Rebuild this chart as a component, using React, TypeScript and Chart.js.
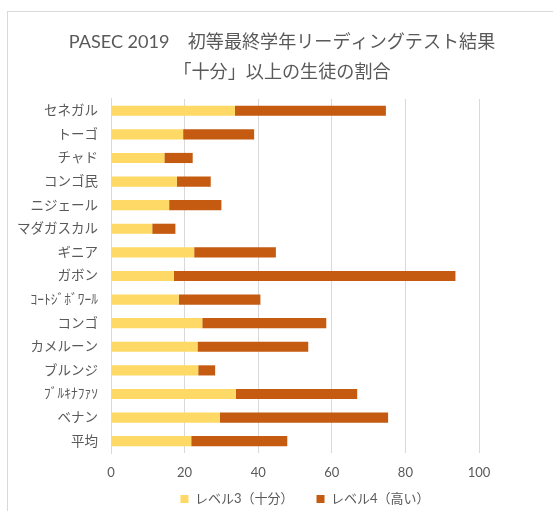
import React, { useEffect, useRef } from "react";
import { Chart, registerables } from "chart.js";

Chart.register(...registerables);

const titleLines = ["PASEC 2019\u3000初等最終学年リーディングテスト結果", "「十分」以上の生徒の割合"];
const countries = [
  "セネガル",
  "トーゴ",
  "チャド",
  "コンゴ民",
  "ニジェール",
  "マダガスカル",
  "ギニア",
  "ガボン",
  "ｺｰﾄｼﾞﾎﾞﾜｰﾙ",
  "コンゴ",
  "カメルーン",
  "ブルンジ",
  "ﾌﾞﾙｷﾅﾌｧｿ",
  "ベナン",
  "平均",
];
const level3 = [33.7, 19.6, 14.5, 17.9, 15.8, 11.2, 22.6, 17.1, 18.4, 24.8, 23.5, 23.7, 33.9, 29.6, 21.8];
const level4 = [41.0, 19.3, 7.7, 9.2, 14.2, 6.3, 22.2, 76.5, 22.2, 33.7, 30.1, 4.6, 33.0, 45.7, 26.1];
const seriesNames = ["レベル3（十分）", "レベル4（高い）"];
const xTicks = { min: 0, max: 100, step: 20 };

const FONT = "Lato, 'Noto Sans CJK JP', sans-serif";
const TEXT = "#595959";
const GRID = "#D9D9D9";

// moves the legend row to where the original chart's legend sits
const legendShift = {
  id: "legendShift",
  afterLayout(chart: any) {
    const lg = chart.legend;
    if (lg) {
      lg.left += 10;
      lg.right += 10;
      lg.top -= 11.5;
      lg.bottom -= 11.5;
    }
  },
};

export default function App() {
  const ref = useRef<HTMLCanvasElement | null>(null);

  useEffect(() => {
    if (!ref.current) return;
    const chart = new Chart(ref.current, {
      type: "bar",
      data: {
        labels: countries,
        datasets: [
          {
            label: seriesNames[0],
            data: level3,
            backgroundColor: "#FFD966",
            borderWidth: 0,
            categoryPercentage: 0.43,
            barPercentage: 1,
          },
          {
            label: seriesNames[1],
            data: level4,
            backgroundColor: "#C55A11",
            borderWidth: 0,
            categoryPercentage: 0.43,
            barPercentage: 1,
          },
        ],
      },
      plugins: [legendShift],
      options: {
        indexAxis: "y",
        responsive: false,
        animation: false,
        devicePixelRatio: 1,
        layout: { padding: { left: 11, right: 0, top: 0, bottom: 0 } },
        scales: {
          x: {
            stacked: true,
            min: xTicks.min,
            max: xTicks.max,
            ticks: {
              stepSize: xTicks.step,
              color: TEXT,
              padding: 12,
              font: { family: FONT, size: 13 },
            },
            grid: { color: GRID, lineWidth: 1, drawTicks: false },
            border: { display: false },
            afterFit: (s: any) => {
              s.height = 28;
            },
          },
          y: {
            stacked: true,
            ticks: {
              color: TEXT,
              padding: 13,
              autoSkip: false,
              font: { family: FONT, size: 13.5 },
            },
            grid: { display: false, drawTicks: false },
            border: { display: true, color: GRID, width: 1 },
            afterFit: (s: any) => {
              s.width = 100;
            },
          },
          yRight: {
            type: "linear",
            position: "right",
            display: true,
            ticks: { display: false },
            grid: { display: false, drawTicks: false },
            border: { display: false },
            afterFit: (s: any) => {
              s.width = 74;
            },
          },
        },
        plugins: {
          title: {
            display: true,
            text: titleLines,
            color: TEXT,
            font: { family: FONT, size: 18.1, weight: "normal", lineHeight: 1.64 },
            padding: { top: 27.3, bottom: 12.3 },
          },
          legend: {
            position: "bottom",
            fullSize: false,
            labels: {
              boxWidth: 8,
              boxHeight: 8,
              padding: 23,
              color: TEXT,
              font: { family: FONT, size: 13 },
            },
          },
          tooltip: { enabled: false },
        },
      } as any,
    });
    return () => chart.destroy();
  }, []);

  return (
    <div
      style={{
        position: "fixed",
        left: 0,
        top: 0,
        width: 553,
        height: 511,
        overflow: "hidden",
        background: "#fff",
      }}
    >
      <div
        style={{
          position: "absolute",
          left: 7,
          top: 11,
          width: 700,
          height: 700,
          border: "1px solid #D9D9D9",
        }}
      />
      <canvas ref={ref} width={553} height={527} style={{ position: "absolute", left: 0, top: 0 }} />
    </div>
  );
}
